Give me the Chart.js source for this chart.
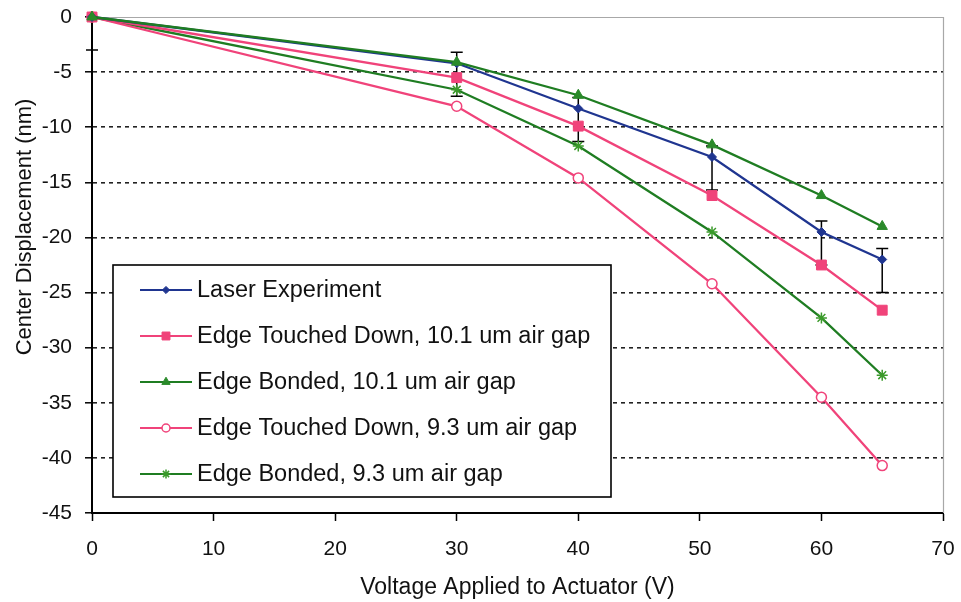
<!DOCTYPE html>
<html>
<head>
<meta charset="utf-8">
<script src="https://cdn.jsdelivr.net/npm/chart.js@4/dist/chart.umd.min.js"></script>
<style>
  html, body { margin: 0; padding: 0; background: #fff; }
  #wrap { width: 961px; height: 602px; }
</style>
</head>
<body>
<div id="wrap"><canvas id="c" width="961" height="602"></canvas></div>
<script>
// Applied voltage (V)
const voltages = [0, 30, 40, 51, 60, 65];

// Center displacement (nm) for each curve
const laserExperiment   = [0, -4.2, -8.3, -12.7, -19.5, -22.0];
const touchedDown101    = [0, -5.5, -9.9, -16.2, -22.5, -26.6];
const bonded101         = [0, -4.1, -7.1, -11.6, -16.2, -19.0];
const touchedDown93     = [0, -8.1, -14.6, -24.2, -34.5, -40.7];
const bonded93          = [0, -6.6, -11.7, -19.5, -27.3, -32.5];

// Measurement uncertainty on the laser data (nm)
const laserErrPlus  = [1, 1, 1, 1, 1, 1];
const laserErrMinus = [3, 3, 3, 3, 3, 3];

const seriesLabels = [
  'Laser Experiment',
  'Edge Touched Down, 10.1 um air gap',
  'Edge Bonded, 10.1 um air gap',
  'Edge Touched Down, 9.3 um air gap',
  'Edge Bonded, 9.3 um air gap'
];

const yTicks = [0, -5, -10, -15, -20, -25, -30, -35, -40, -45];
const xTicks = [0, 10, 20, 30, 40, 50, 60, 70];

const xTitle = 'Voltage Applied to Actuator (V)';
const yTitle = 'Center Displacement (nm)';

const FONT = "'Liberation Sans', Arial, sans-serif";
const BLUE = '#1f3590';
const PINK = '#f0437a';
const GREEN = '#1f7d22';

const pts = arr => arr.map((v, i) => ({ x: voltages[i], y: v }));

// Plot-area frame (top and right edges)
const framePlugin = {
  id: 'frame',
  beforeDatasetsDraw(chart) {
    const { ctx, chartArea: a } = chart;
    ctx.save();
    ctx.strokeStyle = '#a8a8a8';
    ctx.lineWidth = 1.2;
    ctx.beginPath();
    ctx.moveTo(a.left, a.top + 0.5);
    ctx.lineTo(a.right + 0.5, a.top + 0.5);
    ctx.lineTo(a.right + 0.5, a.bottom);
    ctx.stroke();
    ctx.restore();
  }
};

// Asymmetric error bars on the laser series
const errorBarPlugin = {
  id: 'errorBars',
  beforeDatasetsDraw(chart) {
    const { ctx } = chart;
    const xs = chart.scales.x, ys = chart.scales.y;
    ctx.save();
    ctx.strokeStyle = '#000';
    ctx.lineWidth = 1.5;
    voltages.forEach((v, i) => {
      const px = xs.getPixelForValue(v);
      const top = ys.getPixelForValue(laserExperiment[i] + laserErrPlus[i]);
      const bot = ys.getPixelForValue(laserExperiment[i] - laserErrMinus[i]);
      const t = Math.max(top, chart.chartArea.top);
      ctx.beginPath();
      ctx.moveTo(px, t);
      ctx.lineTo(px, bot);
      if (top >= chart.chartArea.top) {
        ctx.moveTo(px - 6, top);
        ctx.lineTo(px + 6, top);
      }
      ctx.moveTo(px - 6, bot);
      ctx.lineTo(px + 6, bot);
      ctx.stroke();
    });
    ctx.restore();
  }
};

// Axis titles and boxed legend inside the plot
const annotationPlugin = {
  id: 'annotations',
  afterDraw(chart) {
    const { ctx } = chart;
    ctx.save();
    ctx.fillStyle = '#111';
    ctx.font = '23px ' + FONT;
    ctx.textAlign = 'center';
    ctx.textBaseline = 'middle';
    ctx.fillText(xTitle, (chart.chartArea.left + chart.chartArea.right) / 2, 588);
    ctx.save();
    ctx.translate(25, 227);
    ctx.rotate(-Math.PI / 2);
    ctx.font = '22px ' + FONT;
    ctx.fillText(yTitle, 0, 0);
    ctx.restore();

    // legend box
    const bx = 113, by = 265, bw = 498, bh = 232;
    ctx.fillStyle = '#fff';
    ctx.fillRect(bx, by, bw, bh);
    ctx.strokeStyle = '#000';
    ctx.lineWidth = 1.6;
    ctx.strokeRect(bx, by, bw, bh);

    ctx.font = '23.5px ' + FONT;
    ctx.textAlign = 'left';
    ctx.textBaseline = 'middle';
    chart.data.datasets.forEach((ds, i) => {
      const y = 290 + i * 46;
      ctx.strokeStyle = ds.borderColor;
      ctx.lineWidth = 2.2;
      ctx.beginPath();
      ctx.moveTo(140, y);
      ctx.lineTo(192, y);
      ctx.stroke();
      ctx.fillStyle = ds.pointBackgroundColor;
      ctx.strokeStyle = ds.pointBorderColor;
      ctx.lineWidth = ds.pointBorderWidth;
      Chart.helpers.drawPoint(ctx, {
        pointStyle: ds.pointStyle,
        radius: ds.pointRadius * 0.8,
        rotation: 0,
        borderWidth: ds.pointBorderWidth
      }, 166, y);
      ctx.fillStyle = '#111';
      ctx.fillText(ds.label, 197, y + 1);
    });
    ctx.restore();
  }
};

const chart = new Chart(document.getElementById('c'), {
  type: 'line',
  data: {
    datasets: [
      { label: seriesLabels[0], data: pts(laserExperiment), borderColor: BLUE,
        pointStyle: 'rectRot', pointRadius: 4.5, pointBackgroundColor: BLUE, pointBorderColor: BLUE,
        pointBorderWidth: 1, order: 1 },
      { label: seriesLabels[1], data: pts(touchedDown101), borderColor: PINK,
        pointStyle: 'rect', pointRadius: 7, pointBackgroundColor: PINK, pointBorderColor: PINK,
        pointBorderWidth: 1, order: 2 },
      { label: seriesLabels[2], data: pts(bonded101), borderColor: GREEN,
        pointStyle: 'triangle', pointRadius: 6, pointBackgroundColor: '#2a8a2a', pointBorderColor: '#2a8a2a',
        pointBorderWidth: 1, order: 0 },
      { label: seriesLabels[3], data: pts(touchedDown93), borderColor: PINK,
        pointStyle: 'circle', pointRadius: 5, pointBackgroundColor: '#fff', pointBorderColor: PINK,
        pointBorderWidth: 1.5, order: 3 },
      { label: seriesLabels[4], data: pts(bonded93), borderColor: GREEN,
        pointStyle: 'star', pointRadius: 5.5, pointBackgroundColor: GREEN, pointBorderColor: '#3a9a2a',
        pointBorderWidth: 1.5, order: 4 }
    ].map(d => Object.assign({ borderWidth: 2.3, tension: 0, clip: false, fill: false,
                                pointHoverRadius: d.pointRadius }, d))
  },
  options: {
    responsive: false,
    animation: false,
    events: [],
    layout: { padding: { left: 0, top: 17, right: 18, bottom: 0 } },
    plugins: { legend: { display: false }, tooltip: { enabled: false } },
    scales: {
      x: {
        type: 'linear', min: 0, max: 70,
        afterBuildTicks: s => { s.ticks = xTicks.map(v => ({ value: v })); },
        afterFit: s => { s.height = 89; s.paddingLeft = 0; s.paddingRight = 0; },
        grid: { drawOnChartArea: false, drawTicks: true, tickLength: 8, tickColor: '#000', tickWidth: 1.5 },
        border: { color: '#000', width: 2 },
        ticks: { color: '#111', font: { family: FONT, size: 21 }, padding: 16, maxRotation: 0 }
      },
      y: {
        type: 'linear', min: -45, max: 0,
        afterBuildTicks: s => { s.ticks = yTicks.map(v => ({ value: v })); },
        afterFit: s => { s.width = 92; s.paddingTop = 0; s.paddingBottom = 0; },
        grid: {
          color: ctx => (ctx.tick && (ctx.tick.value === 0 || ctx.tick.value === -45)) ? 'rgba(0,0,0,0)' : '#222',
          lineWidth: 1.6, drawTicks: true, tickLength: 7, tickColor: '#000', tickWidth: 1.5
        },
        border: { color: '#000', width: 2, dash: [4, 4] },
        ticks: { color: '#111', font: { family: FONT, size: 21 }, padding: 13 }
      }
    }
  },
  plugins: [framePlugin, errorBarPlugin, annotationPlugin]
});
</script>
</body>
</html>
